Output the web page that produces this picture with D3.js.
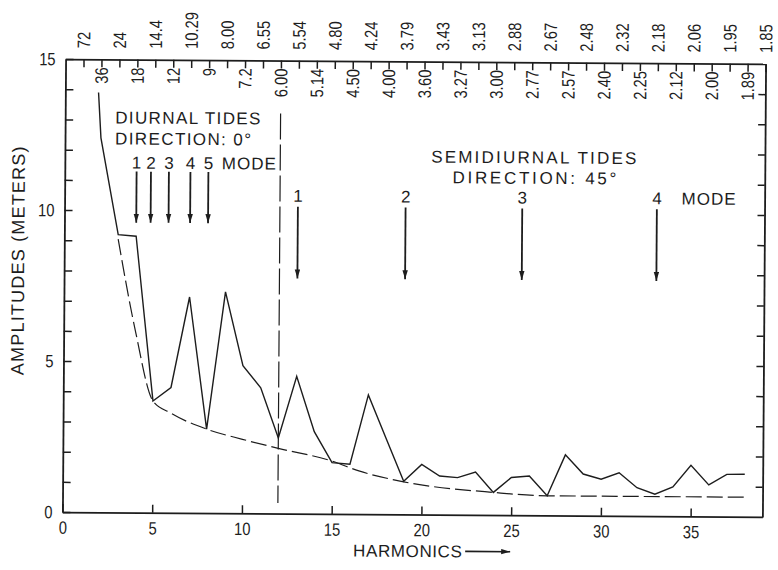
<!DOCTYPE html>
<html>
<head>
<meta charset="utf-8">
<script src="https://cdn.jsdelivr.net/npm/d3@7"></script>
<style>
  html, body { margin: 0; padding: 0; background: #fff; }
  svg { display: block; }
</style>
</head>
<body>
<svg id="chart" width="778" height="570"></svg>
<script>
// Tidal amplitude spectrum by harmonic number (fundamental period 72 h)
const harmonics  = [1.85, 2, 3, 4, 5, 6, 7, 8, 9, 10, 11, 12, 13, 14, 15, 16, 17, 18, 19, 20,
                    21, 22, 23, 24, 25, 26, 27, 28, 29, 30, 31, 32, 33, 34, 35, 36, 37, 38];
const amplitudes = [13.9, 12.4, 9.2, 9.15, 3.7, 4.15, 7.15, 2.78, 7.33, 4.89, 4.16, 2.5, 4.55, 2.72,
                    1.70, 1.65, 3.95, 2.52, 1.1, 1.66, 1.28, 1.23, 1.42, 0.75, 1.25, 1.30, 0.65,
                    2.01, 1.38, 1.21, 1.43, 0.94, 0.73, 0.97, 1.69, 1.05, 1.40, 1.41];

// Lower envelope (dashed)
const envelopeHarmonics  = [3, 4, 5, 6, 8, 10, 12, 15, 16.5, 19, 24, 27, 38];
const envelopeAmplitudes = [9.05, 6.0, 3.7, 3.3, 2.78, 2.45, 2.16, 1.75, 1.43, 1.08, 0.75, 0.65, 0.65];

// Period in hours of harmonics 1..39
const periodLabels = ["72", "36", "24", "18", "14.4", "12", "10.29", "9", "8.00", "7.2", "6.55",
                      "6.00", "5.54", "5.14", "4.80", "4.50", "4.24", "4.00", "3.79", "3.60",
                      "3.43", "3.27", "3.13", "3.00", "2.88", "2.77", "2.67", "2.57", "2.48",
                      "2.40", "2.32", "2.25", "2.18", "2.12", "2.06", "2.00", "1.95", "1.89", "1.85"];

const xTickValues = [0, 5, 10, 15, 20, 25, 30, 35];
const yTickLabels = [0, 5, 10, 15];

// Mode markers
const diurnalModes       = [4, 4.8, 5.8, 7, 8];
const diurnalModeNames   = ["1", "2", "3", "4", "5"];
const semidiurnalModes   = [13, 19, 25.5, 33];
const semidiurnalNames   = ["1", "2", "3", "4"];
const separatorHarmonic  = 12;

const ink = "#1d1d1d";
const font = '"Liberation Sans", Arial, sans-serif';
const narrow = 0.82;   // horizontal squeeze for the tall, narrow numerals

const svg = d3.select("#chart");
const g = svg.append("g").attr("transform", "rotate(0.4,414,288)");

const x = d3.scaleLinear().domain([0, 39]).range([64, 764]);
const y = d3.scaleLinear().domain([0, 15]).range([514.5, 61.5]);

function styleAxis(sel) {
  sel.attr("font-family", font).attr("font-size", 18);
  sel.select(".domain").attr("stroke", ink).attr("stroke-width", 1.8);
  sel.selectAll(".tick line").attr("stroke", ink).attr("stroke-width", 1.5);
  sel.selectAll(".tick text").attr("fill", ink).attr("transform", `scale(${narrow},1)`);
}

// Left axis: unit ticks inward, labels every 5
g.append("g")
  .attr("transform", `translate(${x(0)},0)`)
  .call(d3.axisLeft(y).tickValues(d3.range(0, 16)).tickSizeInner(-8).tickSizeOuter(0)
    .tickPadding(10 / narrow).tickFormat(d => yTickLabels.includes(d) ? d : ""))
  .call(styleAxis);

// Right axis
g.append("g")
  .attr("transform", `translate(${x(39)},0)`)
  .call(d3.axisRight(y).tickValues(d3.range(1, 15)).tickSizeInner(-7).tickSizeOuter(0).tickFormat(""))
  .call(styleAxis);

// Bottom axis
g.append("g")
  .attr("transform", `translate(0,${y(0)})`)
  .call(d3.axisBottom(x).tickValues(xTickValues).tickSizeInner(-8).tickSizeOuter(0).tickPadding(9))
  .call(styleAxis);

// Top axis: one tick per harmonic
g.append("g")
  .attr("transform", `translate(0,${y(15)})`)
  .call(d3.axisTop(x).tickValues(d3.range(1, 40)).tickSizeInner(-8).tickSizeOuter(0).tickFormat(""))
  .call(styleAxis);

// Period labels: odd harmonics above the frame, even ones just inside
g.append("g")
  .attr("font-family", font).attr("font-size", 18).attr("fill", ink)
  .selectAll("text").data(periodLabels).join("text")
  .attr("transform", (d, i) => {
    const n = i + 1;
    const yy = n % 2 === 1 ? y(15) - 11 : y(15) + 8;
    return `translate(${x(n)},${yy}) rotate(-90) scale(${narrow},1)`;
  })
  .attr("text-anchor", (d, i) => (i + 1) % 2 === 1 ? "start" : "end")
  .attr("dy", "0.36em")
  .text(d => d);

// Amplitude spectrum
const line = d3.line().x(d => x(d[0])).y(d => y(d[1]));
g.append("path")
  .datum(d3.zip(harmonics, amplitudes))
  .attr("d", line)
  .attr("fill", "none").attr("stroke", ink).attr("stroke-width", 1.4)
  .attr("stroke-linejoin", "miter");

const envelope = d3.line().x(d => x(d[0])).y(d => y(d[1])).curve(d3.curveMonotoneX);
g.append("path")
  .datum(d3.zip(envelopeHarmonics, envelopeAmplitudes))
  .attr("d", envelope)
  .attr("fill", "none").attr("stroke", ink).attr("stroke-width", 1.2)
  .attr("stroke-dasharray", "16,5");

// Diurnal / semidiurnal separator
g.append("line")
  .attr("x1", x(separatorHarmonic)).attr("x2", x(separatorHarmonic))
  .attr("y1", y(13.25)).attr("y2", y(0.35))
  .attr("stroke", ink).attr("stroke-width", 1.2)
  .attr("stroke-dasharray", "26,5");

// Arrowhead marker
svg.append("defs").append("marker")
  .attr("id", "head").attr("viewBox", "0 0 10 6")
  .attr("refX", 10).attr("refY", 3)
  .attr("markerWidth", 9).attr("markerHeight", 6)
  .attr("markerUnits", "userSpaceOnUse").attr("orient", "auto")
  .append("path").attr("d", "M0,0 L10,3 L0,6 Z").attr("fill", ink);

function modeArrows(modes, names, top, tip, gap) {
  const grp = g.append("g");
  grp.selectAll("line").data(modes).join("line")
    .attr("x1", d => x(d)).attr("x2", d => x(d))
    .attr("y1", y(top)).attr("y2", y(tip))
    .attr("stroke", ink).attr("stroke-width", 1.8)
    .attr("marker-end", "url(#head)");
  grp.selectAll("text").data(modes).join("text")
    .attr("x", d => x(d)).attr("y", y(top) - gap)
    .attr("text-anchor", "middle")
    .attr("font-family", font).attr("font-size", 17).attr("fill", ink)
    .text((d, i) => names[i]);
}
modeArrows(diurnalModes, diurnalModeNames, 11.29, 9.6, 3);
modeArrows(semidiurnalModes, semidiurnalNames, 10.16, 7.79, 5);

// Annotation text
const notes = g.append("g")
  .attr("font-family", font).attr("font-size", 17).attr("fill", ink)
  .attr("letter-spacing", 1.4);
notes.append("text").attr("x", 114).attr("y", 125.5).text("DIURNAL TIDES");
notes.append("text").attr("x", 114).attr("y", 146.5).text("DIRECTION: 0°");
notes.append("text").attr("x", 221).attr("y", y(11.29) - 3).attr("letter-spacing", 1).text("MODE");
notes.append("text").attr("x", 534).attr("y", 162.5).attr("text-anchor", "middle")
  .attr("letter-spacing", 2.2).text("SEMIDIURNAL TIDES");
notes.append("text").attr("x", 535).attr("y", 183).attr("text-anchor", "middle")
  .attr("letter-spacing", 2.7).text("DIRECTION: 45°");
notes.append("text").attr("x", 681).attr("y", y(10.16) - 5).attr("letter-spacing", 1).text("MODE");

// Axis titles
g.append("text")
  .attr("transform", "translate(24,263) rotate(-90)")
  .attr("text-anchor", "middle")
  .attr("font-family", font).attr("font-size", 18).attr("fill", ink)
  .attr("letter-spacing", 1.2)
  .text("AMPLITUDES (METERS)");

const xTitle = g.append("g");
xTitle.append("text")
  .attr("x", 355).attr("y", 557)
  .attr("font-family", font).attr("font-size", 17).attr("fill", ink)
  .attr("letter-spacing", 0.6)
  .text("HARMONICS");
xTitle.append("line")
  .attr("x1", 467).attr("x2", 512).attr("y1", 551).attr("y2", 551)
  .attr("stroke", ink).attr("stroke-width", 1.6)
  .attr("marker-end", "url(#head)");
</script>
</body>
</html>
